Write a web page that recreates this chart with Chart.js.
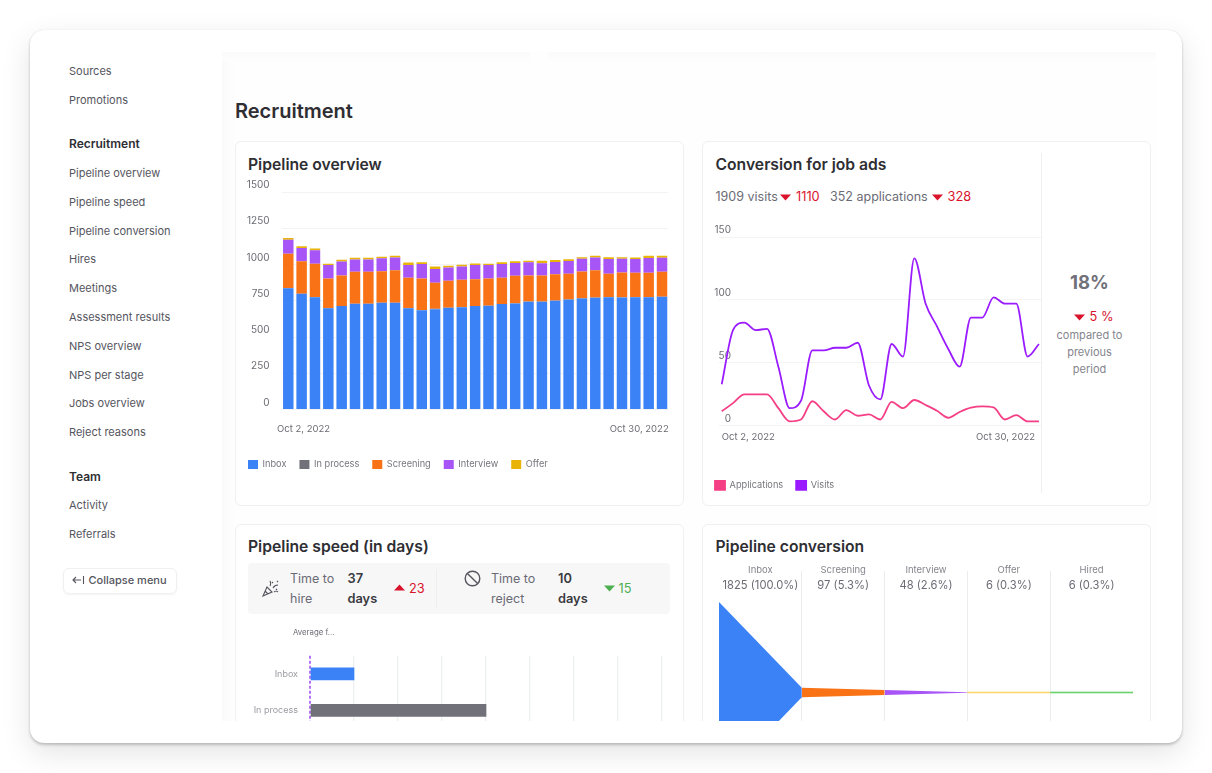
<!DOCTYPE html>
<html>
<head>
<meta charset="utf-8">
<title>Recruitment</title>
<script src="https://cdn.jsdelivr.net/npm/chart.js@4"></script>
<style>
  html, body { margin: 0; background: #fff; width: 1212px; height: 773px; overflow: hidden; font-family: Inter, sans-serif; color: #2e2e33; }
  #frame { position: absolute; left: 30px; top: 30px; width: 1152px; height: 713px; background: #fff; border-radius: 14px;
           box-shadow: 0 0 1px rgba(0,0,0,.14), 0 2px 3px rgba(0,0,0,.2), 0 10px 30px rgba(0,0,0,.11); }
  #clip { position: absolute; left: 0; top: 0; width: 1212px; height: 721px; overflow: hidden; }
  #main { position: absolute; left: 222px; top: 52px; width: 934px; height: 669px; background: #fefefe; }
  #leftbar { position: absolute; left: 222px; top: 52px; width: 13px; height: 669px; background: linear-gradient(90deg, #fafafa, #fefefe); }
  .topbar { position: absolute; top: 52px; height: 9px; background: linear-gradient(#fafafa, #fefefe); }
  .t { position: absolute; white-space: nowrap; transform: translateY(-50%); line-height: 1; }
  .nav { left: 69px; font-size: 11px; color: #55555e; }
  .head { left: 69px; font-size: 12px; font-weight: 600; color: #2e2e33; }
  .card { position: absolute; width: 447px; background: #fff; border: 1px solid #f0f0f1; border-radius: 6px; }
  .title { font-size: 15.7px; font-weight: 600; color: #2e2e33; }
  .muted { font-size: 12.5px; color: #6b6b75; }
  .red { font-size: 12.8px; color: #d9142c; }
  .green { font-size: 12.8px; color: #4caf50; }
  .bold { font-size: 12.8px; font-weight: 600; color: #3a3a40; }
  .center { text-align: center; transform: translate(-50%, -50%); }
  svg { position: absolute; }
  canvas { position: absolute; }
</style>
</head>
<body>
<div id="frame"></div>

<div class="t nav" style="top:71px">Sources</div>
<div class="t nav" style="top:100px">Promotions</div>
<div class="t head" style="top:144px">Recruitment</div>
<div class="t nav" style="top:173px">Pipeline overview</div>
<div class="t nav" style="top:201.5px">Pipeline speed</div>
<div class="t nav" style="top:230.5px">Pipeline conversion</div>
<div class="t nav" style="top:259px">Hires</div>
<div class="t nav" style="top:288px">Meetings</div>
<div class="t nav" style="top:317px">Assessment results</div>
<div class="t nav" style="top:345.5px">NPS overview</div>
<div class="t nav" style="top:374.5px">NPS per stage</div>
<div class="t nav" style="top:403px">Jobs overview</div>
<div class="t nav" style="top:432px">Reject reasons</div>
<div class="t head" style="top:476.5px">Team</div>
<div class="t nav" style="top:505px">Activity</div>
<div class="t nav" style="top:534px">Referrals</div>

<div style="position:absolute;left:63px;top:568px;width:112px;height:24px;border:1px solid #f0f0f1;border-radius:6px;box-shadow:0 1px 2px rgba(0,0,0,.05)"></div>
<svg style="left:71px;top:574px" width="14" height="12" viewBox="0 0 14 12" fill="none" stroke="#55555e" stroke-width="1.1"><path d="M10 6H2M5 3L2 6l3 3M12.5 2v8"/></svg>
<div class="t" style="left:88.5px;top:580px;font-size:11px;color:#55555e;font-weight:500">Collapse menu</div>

<div id="clip">
  <div id="main"></div>
  <div id="leftbar"></div>
  <div class="topbar" style="left:222px;width:308px"></div>
  <div class="topbar" style="left:548px;width:608px"></div>

  <div class="t" style="left:235px;top:111px;font-size:20px;font-weight:600;color:#2e2e33">Recruitment</div>

  <div class="card" style="left:235px;top:141px;height:363px"></div>
  <div class="card" style="left:702px;top:141px;height:363px"></div>
  <div class="card" style="left:235px;top:524px;height:300px"></div>
  <div class="card" style="left:702px;top:524px;height:300px"></div>

  <div class="t title" style="left:248px;top:165px">Pipeline overview</div>
  <canvas id="overviewChart" width="448" height="305" style="left:235px;top:174px"></canvas>

  <div class="t title" style="left:715.5px;top:165px">Conversion for job ads</div>
  <div class="t muted" style="left:715.5px;top:196.5px">1909 visits</div>
  <svg style="left:780px;top:194px" width="11" height="7"><path d="M0 0.5H11L5.5 6.5Z" fill="#d9142c"/></svg>
  <div class="t red" style="left:796px;top:196.5px">1110</div>
  <div class="t muted" style="left:830px;top:196.5px">352 applications</div>
  <svg style="left:932px;top:194px" width="11" height="7"><path d="M0 0.5H11L5.5 6.5Z" fill="#d9142c"/></svg>
  <div class="t red" style="left:947.5px;top:196.5px">328</div>
  <canvas id="conversionChart" width="340" height="278" style="left:702px;top:222px"></canvas>
  <div style="position:absolute;left:1041px;top:153px;width:1px;height:340px;background:#f0f0f1"></div>
  <div class="t center" style="left:1089.5px;top:282px;font-size:18.5px;font-weight:700;color:#71717a">18%</div>
  <svg style="left:1074px;top:314px" width="11" height="7"><path d="M0 0.5H11L5.5 6.5Z" fill="#d9142c"/></svg>
  <div class="t red" style="left:1089.5px;top:316.5px">5 %</div>
  <div class="t center" style="left:1089.5px;top:335px;font-size:11px;color:#85858d">compared to</div>
  <div class="t center" style="left:1089.5px;top:352px;font-size:11px;color:#85858d">previous</div>
  <div class="t center" style="left:1089.5px;top:368.5px;font-size:11px;color:#85858d">period</div>

  <div class="t title" style="left:248px;top:547px">Pipeline speed (in days)</div>
  <div style="position:absolute;left:248px;top:563px;width:422px;height:51px;background:#f7f7f8;border-radius:4px"></div>
  <div style="position:absolute;left:436px;top:569px;width:1px;height:39px;background:#eeeeef"></div>
  <svg style="left:262px;top:579px" width="18" height="19" viewBox="0 0 18 19" fill="none" stroke="#55555e" stroke-width="1.1"><path d="M1 17L5 8l5 5zM8 7c1-2 1-3 0-5M11 9c1-2 3-3 5-3M12 13c1-1 3-1 4 0M3 12l3 3M10 3l1 1M15 2l1 1M14 10l1 1"/></svg>
  <div class="t muted" style="left:290px;top:578.5px">Time to</div>
  <div class="t muted" style="left:290px;top:598.5px">hire</div>
  <div class="t bold" style="left:347.5px;top:578.5px">37</div>
  <div class="t bold" style="left:347.5px;top:598.5px">days</div>
  <svg style="left:393.5px;top:584px" width="11" height="7"><path d="M0 6.5H11L5.5 0.5Z" fill="#d9142c"/></svg>
  <div class="t red" style="left:409px;top:588.5px">23</div>
  <svg style="left:464px;top:570px" width="17" height="17" viewBox="0 0 17 17" fill="none" stroke="#55555e" stroke-width="1.4"><circle cx="8.5" cy="8.5" r="7.3"/><path d="M3.4 3.4L13.6 13.6"/></svg>
  <div class="t muted" style="left:491px;top:578.5px">Time to</div>
  <div class="t muted" style="left:491px;top:598.5px">reject</div>
  <div class="t bold" style="left:558px;top:578.5px">10</div>
  <div class="t bold" style="left:558px;top:598.5px">days</div>
  <svg style="left:604px;top:585px" width="11" height="7"><path d="M0 0.5H11L5.5 6.5Z" fill="#4caf50"/></svg>
  <div class="t green" style="left:618.5px;top:588.5px">15</div>
  <canvas id="speedChart" width="448" height="126" style="left:235px;top:620px"></canvas>

  <div class="t title" style="left:715.5px;top:547px">Pipeline conversion</div>
  <canvas id="funnelChart" width="449" height="259" style="left:702px;top:555px"></canvas>
</div>

<script>
// values
const dayLabels = ['Oct 2, 2022', 'Oct 3, 2022', 'Oct 4, 2022', 'Oct 5, 2022', 'Oct 6, 2022', 'Oct 7, 2022', 'Oct 8, 2022',
    'Oct 9, 2022', 'Oct 10, 2022', 'Oct 11, 2022', 'Oct 12, 2022', 'Oct 13, 2022', 'Oct 14, 2022', 'Oct 15, 2022', 'Oct 16, 2022',
    'Oct 17, 2022', 'Oct 18, 2022', 'Oct 19, 2022', 'Oct 20, 2022', 'Oct 21, 2022', 'Oct 22, 2022', 'Oct 23, 2022', 'Oct 24, 2022',
    'Oct 25, 2022', 'Oct 26, 2022', 'Oct 27, 2022', 'Oct 28, 2022', 'Oct 29, 2022', 'Oct 30, 2022'];
const inboxValues = [837, 798, 775, 699, 713, 729, 729, 736, 736, 699, 685, 692, 701, 706, 713, 715, 727, 731, 743, 743, 750, 757, 766, 771, 775, 773, 775, 775, 777];
const inProcessValues = [1, 1, 1, 1, 1, 1, 1, 1, 1, 1, 1, 3, 1, 1, 1, 1, 1, 1, 1, 1, 1, 3, 3, 1, 1, 1, 1, 1, 1];
const screeningValues = [237, 223, 230, 204, 211, 220, 220, 216, 223, 209, 218, 179, 186, 188, 184, 188, 181, 190, 181, 181, 181, 177, 182, 188, 160, 170, 167, 167, 172];
const interviewValues = [95, 92, 92, 92, 95, 85, 85, 90, 88, 88, 99, 95, 92, 92, 99, 92, 95, 88, 90, 83, 85, 88, 88, 88, 102, 95, 95, 102, 97];
const offerValues = [12, 12, 12, 10, 12, 11, 12, 11, 12, 16, 12, 18, 12, 11, 10, 9, 11, 12, 11, 18, 14, 11, 11, 13, 12, 11, 11, 15, 13];

const visitsValues = [33, 76, 82, 76, 77, 47, 14, 20, 60, 60, 62, 62, 66, 32, 21, 65, 55, 133, 97, 79, 61, 47, 86, 86, 102, 97, 97, 55, 65];
const applicationsValues = [11.5, 18, 25, 25, 25, 14, 3.5, 5, 19.5, 11.5, 5, 12.5, 8, 9, 5, 19, 14, 20.5, 16.5, 12, 6.4, 11, 14.4, 15.5, 14.6, 5, 8.5, 3.5, 3.5];

const speedStages = ['Inbox', 'In process'];
const speedDays = [5, 20];

const funnelStages = ['Inbox', 'Screening', 'Interview', 'Offer', 'Hired'];
const funnelCounts = [1825, 97, 48, 6, 6];
const funnelLabels = ['1825 (100.0%)', '97 (5.3%)', '48 (2.6%)', '6 (0.3%)', '6 (0.3%)'];

const BLUE = '#3b82f6', GREY = '#71717a', ORANGE = '#f97316', PURPLE = '#a855f7', AMBER = '#eab308';
const PINK = '#f43f85', VIOLET = '#9a1bff';
const TEXT = '#6b6b75', GRID = '#f3f3f4';

Chart.defaults.font.family = 'Inter';
Chart.defaults.font.size = 10;
Chart.defaults.color = TEXT;
Chart.defaults.animation = false;
Chart.defaults.responsive = false;
Chart.defaults.plugins.tooltip.enabled = false;

const fixWidth = w => scale => { scale.width = w; };
const fixHeight = h => scale => { scale.height = h; };
const points = values => values.map((v, i) => ({ x: i, y: v }));
const plainNumber = v => String(v);
const firstAndLastDay = (v, i) => (i === 0 ? dayLabels[0] : dayLabels[dayLabels.length - 1]);
const legendOpts = {
    position: 'bottom',
    align: 'start',
    labels: { boxWidth: 10, boxHeight: 9, padding: 13, color: '#75757d', font: { size: 9.2 } }
};

function barSet(label, values, color) {
    return { label: label, data: points(values), backgroundColor: color, categoryPercentage: 0.785, barPercentage: 1 };
}

new Chart(document.getElementById('overviewChart'), {
    type: 'bar',
    data: {
        datasets: [
            barSet('Inbox', inboxValues, BLUE),
            barSet('In process', inProcessValues, GREY),
            barSet('Screening', screeningValues, ORANGE),
            barSet('Interview', interviewValues, PURPLE),
            barSet('Offer', offerValues, AMBER)
        ]
    },
    options: {
        layout: { padding: { top: 18, right: 13 } },
        plugins: { legend: legendOpts },
        scales: {
            x: {
                type: 'linear', stacked: true, offset: false, min: -0.5, max: 28.5,
                grid: { display: false, drawTicks: false, offset: false }, border: { display: false },
                afterBuildTicks: s => { s.ticks = [{ value: -0.84 }, { value: 28.5 }]; },
                afterFit: fixHeight(37.3),
                ticks: { autoSkip: false, maxRotation: 0, align: 'inner', padding: 14.3, font: { size: 9.5 }, callback: firstAndLastDay }
            },
            y: {
                stacked: true, min: 0, max: 1500,
                grid: { color: GRID, drawTicks: false }, border: { display: false },
                afterFit: fixWidth(46.6),
                ticks: { stepSize: 250, padding: 12, labelOffset: -7, callback: plainNumber }
            }
        }
    }
});

new Chart(document.getElementById('conversionChart'), {
    type: 'line',
    data: {
        datasets: [
            { label: 'Applications', data: points(applicationsValues), borderColor: PINK, backgroundColor: PINK, clip: false },
            { label: 'Visits', data: points(visitsValues), borderColor: VIOLET, backgroundColor: VIOLET, clip: false }
        ]
    },
    options: {
        layout: { padding: { top: 15 } },
        elements: { point: { radius: 0 }, line: { borderWidth: 1.8, cubicInterpolationMode: 'monotone' } },
        plugins: { legend: legendOpts },
        scales: {
            x: {
                type: 'linear', min: 0.82, max: 28.27,
                grid: { display: false, drawTicks: false }, border: { display: false },
                afterBuildTicks: s => { s.ticks = [{ value: 0 }, { value: 27.65 }]; },
                afterFit: fixHeight(42),
                ticks: { autoSkip: false, maxRotation: 0, align: 'inner', padding: 6, font: { size: 9.5 }, callback: firstAndLastDay }
            },
            y: {
                min: 0, max: 150,
                grid: { color: GRID, tickColor: GRID, tickLength: 12 }, border: { display: false },
                afterFit: fixWidth(29),
                ticks: { stepSize: 50, padding: -12, labelOffset: -7, callback: plainNumber }
            }
        }
    }
});

new Chart(document.getElementById('speedChart'), {
    type: 'bar',
    data: {
        labels: speedStages,
        datasets: [{ data: speedDays, backgroundColor: [BLUE, GREY], barThickness: 12 }]
    },
    options: {
        indexAxis: 'y',
        layout: { padding: { top: 5.7, right: 21 } },
        plugins: { legend: { display: false } },
        scales: {
            x: {
                min: 0, max: 40,
                grid: {
                    drawTicks: false,
                    color: ctx => (ctx.tick.value === 0 ? '#b673f7' : '#edf0f0'),
                    lineWidth: ctx => (ctx.tick.value === 0 ? 2 : 1.3)
                },
                border: { display: false, dash: ctx => (ctx.tick.value === 0 ? [3, 2] : []) },
                afterFit: fixHeight(0),
                ticks: { display: false, stepSize: 5 }
            },
            xAvg: {
                axis: 'x', type: 'linear', position: 'top', min: 0, max: 40,
                grid: { display: false, drawTicks: false }, border: { display: false },
                afterBuildTicks: s => { s.ticks = [{ value: 0.43 }]; },
                afterFit: fixHeight(30),
                ticks: { autoSkip: false, maxRotation: 0, padding: 18.3, font: { size: 7.8 }, color: TEXT, callback: () => 'Average f...' }
            },
            y: {
                grid: { display: false, drawTicks: false }, border: { display: false },
                afterFit: fixWidth(75),
                ticks: { padding: 12, color: '#9a9aa2', font: { size: 9 } }
            }
        }
    }
});

// one mirrored area per funnel stage, tapering towards the next stage
const funnelColors = [BLUE, ORANGE, PURPLE, '#fcd56b', '#66cf66'];
const funnelSets = [];
funnelCounts.forEach((count, i) => {
    const next = i < funnelCounts.length - 1 ? funnelCounts[i + 1] : count;
    [1, -1].forEach(sign => {
        funnelSets.push({
            label: funnelStages[i],
            data: [{ x: i, y: sign * count }, { x: i + 1, y: sign * next }],
            fill: sign === 1 ? '+1' : false,
            backgroundColor: funnelColors[i],
            borderColor: funnelColors[i],
            borderWidth: i >= 3 ? 1 : 0,
            pointRadius: 0,
            tension: 0
        });
    });
});

const topAxis = (labels, padding, font, color) => ({
    axis: 'x', type: 'linear', position: 'top', min: 0, max: 5,
    grid: { display: false, drawTicks: false }, border: { display: false },
    afterBuildTicks: s => { s.ticks = labels.map((l, i) => ({ value: i + 0.5 })); },
    afterFit: fixHeight(0),
    ticks: { autoSkip: false, maxRotation: 0, mirror: true, padding: padding, font: font, color: color, callback: (v, i) => labels[i] }
});

new Chart(document.getElementById('funnelChart'), {
    type: 'line',
    data: { datasets: funnelSets },
    options: {
        layout: { padding: { top: 16, left: 17, right: 18 } },
        plugins: { legend: { display: false } },
        scales: {
            x: {
                type: 'linear', min: 0, max: 5,
                grid: { color: '#ececee', drawTicks: false }, border: { display: false },
                afterBuildTicks: s => { s.ticks = [{ value: 1 }, { value: 2 }, { value: 3 }, { value: 4 }]; },
                afterFit: fixHeight(0),
                ticks: { display: false }
            },
            xStage: topAxis(funnelStages, -6.5, { size: 9.5 }, '#85858d'),
            xCount: topAxis(funnelLabels, 8.4, { size: 11.2 }, TEXT),
            y: { display: false, min: -2451, max: 2451 }
        }
    }
});
</script>
</body>
</html>
